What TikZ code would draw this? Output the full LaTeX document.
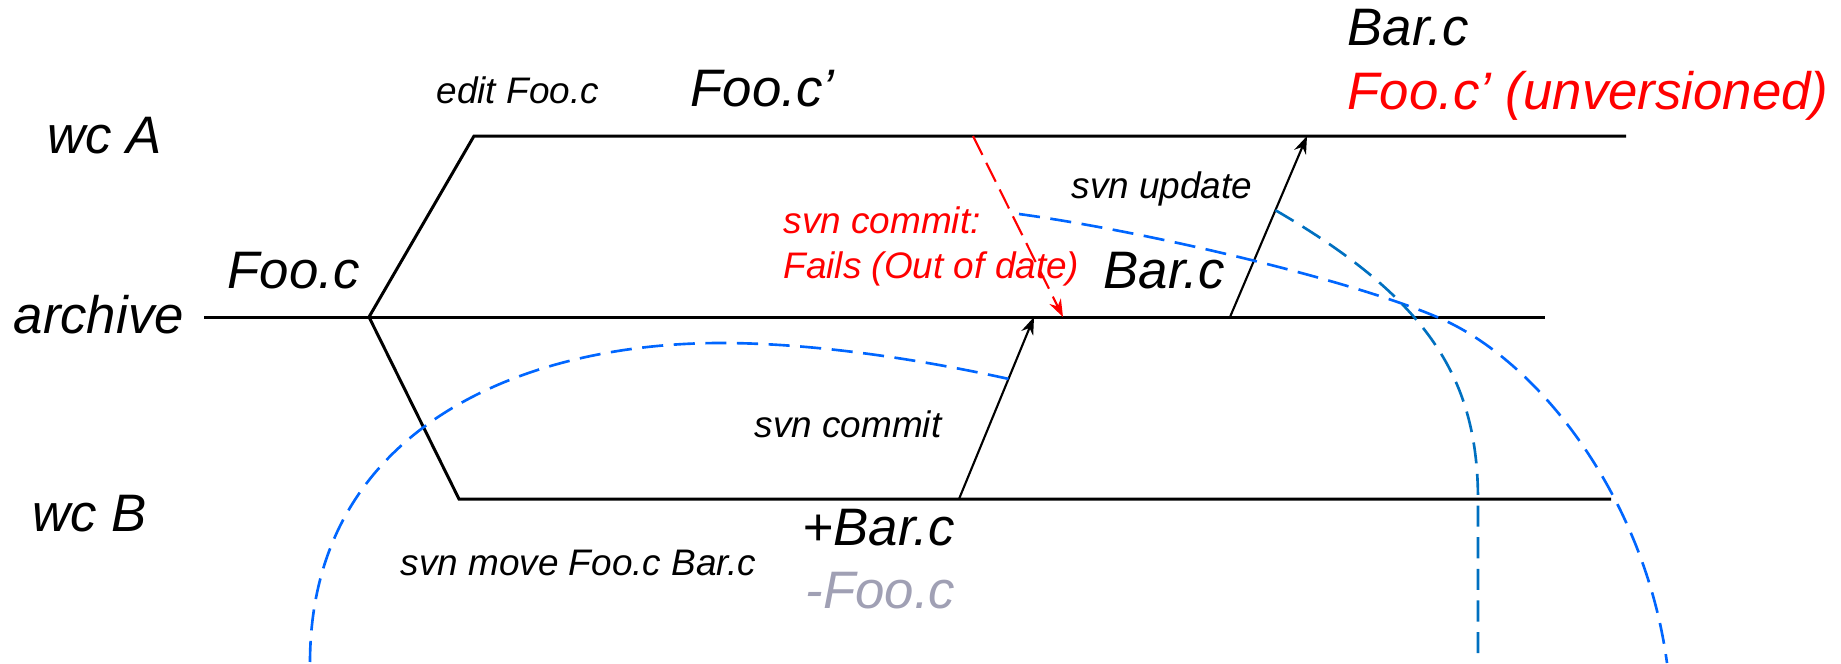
\documentclass[tikz,border=0pt]{standalone}
\usepackage{fontspec}
\setmainfont{Liberation Sans}
\usetikzlibrary{arrows.meta,calc}

\definecolor{flowblue}{HTML}{0066FF}
\definecolor{flowteal}{HTML}{0070C0}
\definecolor{delgray}{HTML}{A0A0B4}

\begin{document}
\begin{tikzpicture}[
    x=0.01cm, y=-0.01cm,
    big/.style={font=\fontsize{15}{18}\selectfont\itshape, inner sep=0pt, anchor=base west},
    small/.style={font=\fontsize{10.5}{13}\selectfont\itshape, inner sep=0pt, anchor=base west},
    track/.style={line width=0.85pt},
    arr/.style={-{Stealth[length=5pt,width=3.6pt]}, line width=0.6pt},
    flow/.style={line width=0.75pt, dash pattern=on 6pt off 3pt}
  ]
    \useasboundingbox (0,0) rectangle (1841,663);

    % track end points
    \coordinate (branch) at (369,317);
    \coordinate (aL) at (474,136);
    \coordinate (aR) at (1626,136);
    \coordinate (arL) at (204,317);
    \coordinate (arR) at (1545,317);
    \coordinate (bL) at (459,499);
    \coordinate (bR) at (1611,499);

    % commit / update / failed commit
    \coordinate (cmtB) at (959,499);
    \coordinate (cmtT) at (1034,317);
    \coordinate (updB) at (1230,317);
    \coordinate (updT) at (1307,136);
    \coordinate (failT) at (973,136);
    \coordinate (failB) at (1063,317);

    % free ends of the dashed curves
    \coordinate (moveEnd) at (310,663);
    \coordinate (renStart) at (1019,214);
    \coordinate (renEnd) at (1667,663);
    \coordinate (updEnd) at (1478,663);

    \node[big] (wcA) at (47,153) {wc A};
    \node[big] (archive) at (13,333) {archive};
    \node[big] (wcB) at (32,531) {wc B};

    \node[big] (foo) at (227,288) {Foo.c};
    \node[small] (edit) at (436,103) {edit Foo.c};
    \node[big] (fooEdit) at (690,106) {Foo.c’};
    \node[big] (barTop) at (1347,45) {Bar.c};
    \node[big, red] (unver) at (1347,109) {Foo.c’ (unversioned)};
    \node[big] (barArch) at (1103,288) {Bar.c};
    \node[small] (update) at (1071,198) {svn update};
    \node[small] (commit) at (754,437) {svn commit};
    \node[small, red] (fail) at (783,233) {svn commit:};
    \node[small, red] (failWhy) at (783,278) {Fails (Out of date)};
    \node[small] (move) at (400,575) {svn move Foo.c Bar.c};
    \node[big] (plusBar) at (802,545) {+Bar.c};
    \node[big, delgray] (minusFoo) at (805,608) {-Foo.c};

    \draw[track] (arL) -- (arR);
    \draw[track] (aR) -- (aL) -- (branch) -- (bL) -- (bR);

    \draw[arr] (cmtB) -- (cmtT);
    \draw[arr] (updB) -- (updT);
    \draw[arr, red, dash pattern=on 6pt off 2.5pt] (failT) -- (failB);

    % dashed curves
    \draw[flow, flowblue] ($(cmtB)!0.66!(cmtT)$) .. controls (900,355) and (800,343) .. (721,343)
        .. controls (520,343) and (310,430) .. (moveEnd);
    \draw[flow, flowblue] (renStart) .. controls (1150,232) and (1350,280) .. (1437,317)
        .. controls (1540,360) and (1645,500) .. (renEnd);
    \draw[flow, flowteal] ($(updB)!0.59!(updT)$) .. controls (1430,300) and (1478,380) .. (1478,500) -- (updEnd);
\end{tikzpicture}
\end{document}
